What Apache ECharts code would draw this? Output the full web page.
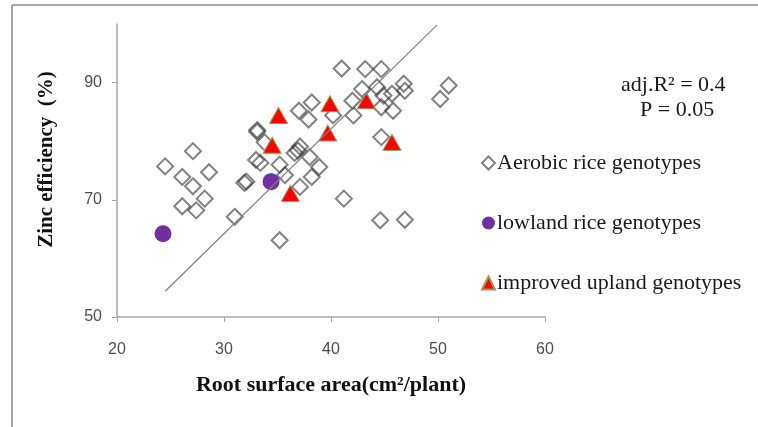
<!DOCTYPE html>
<html>
<head>
<meta charset="utf-8">
<script src="https://cdn.jsdelivr.net/npm/echarts@6/dist/echarts.min.js"></script>
<style>
  html, body { margin: 0; padding: 0; background: #fff; }
  #chart { width: 758px; height: 427px; }
</style>
</head>
<body>
<div id="chart"></div>
<script>
// root surface area (cm2/plant), zinc efficiency (%)
var aerobicRice = [
  [24.5, 75.7], [26.1, 73.9], [27.1, 78.3], [27.1, 72.3], [28.6, 74.7],
  [26.1, 68.9], [27.4, 68.2], [28.2, 70.2], [31.0, 67.1], [31.9, 72.9],
  [32.1, 73.1], [33.1, 81.9], [33.1, 81.6], [33.0, 76.8], [33.4, 76.3],
  [33.8, 79.8], [35.2, 76.0], [35.7, 74.2], [35.2, 63.1], [37.0, 85.2],
  [38.2, 86.6], [37.9, 83.7], [36.9, 78.4], [37.1, 79.1], [36.6, 78.0],
  [38.0, 77.3], [38.9, 75.6], [38.2, 73.9], [37.1, 72.2], [41.2, 70.2],
  [44.6, 66.5], [46.9, 66.6], [41.0, 92.4], [43.2, 92.3], [44.7, 92.3],
  [42.9, 88.9], [44.3, 89.2], [44.9, 87.8], [46.8, 89.8], [46.9, 88.6],
  [45.7, 88.1], [44.7, 85.8], [45.8, 85.2], [42.0, 86.9], [42.1, 84.4],
  [40.2, 84.4], [44.7, 80.7], [51.0, 89.5], [50.2, 87.2]
];
var lowlandRice = [[24.3, 64.2], [34.4, 73.1]];
var uplandRice = [
  [35.1, 84.4], [34.5, 79.3], [36.2, 71.1], [39.9, 86.4],
  [39.7, 81.4], [43.3, 86.9], [45.7, 79.8]
];
// fitted line, ends
var fitLine = [[24.5, 54.4], [49.9, 99.8]];

var yTicks = [50, 70, 90];
var serif = '"Liberation Serif", "DejaVu Serif", serif';
var sans = '"Liberation Sans", Arial, sans-serif';

var myChart = echarts.init(document.getElementById('chart'));

var opt = {
  animation: false,
  grid: { left: 117, right: 213, top: 24, bottom: 110 },
  xAxis: {
    type: 'value',
    min: 20,
    max: 60,
    interval: 10,
    name: 'Root surface area(cm²/plant)',
    nameLocation: 'middle',
    nameGap: 57,
    nameTextStyle: { fontFamily: serif, fontWeight: 'bold', fontSize: 22, color: '#111' },
    axisLine: { lineStyle: { color: '#a6a6a6', width: 1.5 } },
    axisTick: { show: true, length: 5, lineStyle: { color: '#a6a6a6' } },
    axisLabel: { margin: 25, fontFamily: sans, fontSize: 16, color: '#4d4d4d' },
    splitLine: { show: false }
  },
  yAxis: {
    type: 'value',
    min: 50,
    max: 100,
    interval: 20,
    name: 'Zinc efficiency  (%)',
    nameLocation: 'middle',
    nameGap: 60,
    // shift the title up a little, as in the picture
    nameTextStyle: { fontFamily: serif, fontWeight: 'bold', fontSize: 21, color: '#111', padding: [0, 0, 0, 22] },
    axisLine: { show: true, lineStyle: { color: '#a6a6a6', width: 1.5 } },
    axisTick: { show: true, length: 5, customValues: yTicks, lineStyle: { color: '#a6a6a6' } },
    axisLabel: { margin: 15, customValues: yTicks, fontFamily: sans, fontSize: 16, color: '#4d4d4d' },
    splitLine: { show: false }
  },
  legend: {
    orient: 'vertical',
    left: 476,
    top: 146,
    itemGap: 36,
    itemWidth: 13,
    itemHeight: 13,
    textStyle: { fontFamily: serif, fontSize: 22, color: '#1a1a1a', lineHeight: 24, padding: [0, 0, 0, -3] },
    data: ['Aerobic rice genotypes', 'lowland rice genotypes', 'improved upland genotypes']
  },
  graphic: [
    { type: 'line', shape: { x1: 12, y1: 5, x2: 758, y2: 5 }, style: { stroke: '#a6a6a6', lineWidth: 2 } },
    { type: 'line', shape: { x1: 12, y1: 5, x2: 12, y2: 427 }, style: { stroke: '#a6a6a6', lineWidth: 2 } },
    {
      type: 'text', left: 621, top: 74,
      style: { text: 'adj.R² = 0.4', fontFamily: serif, fontSize: 22, fill: '#1a1a1a' }
    },
    {
      type: 'text', left: 640, top: 99,
      style: { text: 'P = 0.05', fontFamily: serif, fontSize: 22, fill: '#1a1a1a' }
    }
  ],
  series: [
    {
      name: 'Aerobic rice genotypes',
      type: 'scatter',
      symbol: 'diamond',
      symbolSize: 16,
      itemStyle: { color: 'rgba(0,0,0,0)', borderColor: 'rgba(55,55,55,0.78)', borderWidth: 2 },
      data: aerobicRice
    },
    {
      name: 'lowland rice genotypes',
      type: 'scatter',
      symbol: 'circle',
      symbolSize: 17,
      itemStyle: { color: '#7030a0', opacity: 1 },
      data: lowlandRice
    },
    {
      name: 'improved upland genotypes',
      type: 'scatter',
      symbol: 'triangle',
      symbolSize: [18, 16],
      itemStyle: { color: '#ff0000', borderColor: '#9a9a55', borderWidth: 1, opacity: 1 },
      data: uplandRice
    },
    {
      name: 'fit',
      type: 'line',
      symbol: 'none',
      silent: true,
      lineStyle: { color: '#808080', width: 1.2 },
      data: fitLine,
      z: 5
    }
  ]
};

myChart.setOption(opt);
</script>
</body>
</html>
